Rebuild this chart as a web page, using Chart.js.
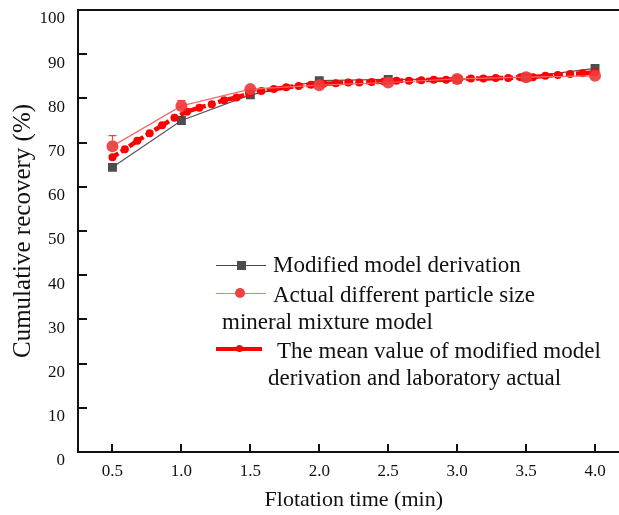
<!DOCTYPE html>
<html><head><meta charset="utf-8">
<script src="https://cdn.jsdelivr.net/npm/chart.js@4.4.1/dist/chart.umd.min.js"></script>
<style>
html,body{margin:0;padding:0;background:#fff;overflow:hidden;width:619px;height:515px;}
#wrap{position:relative;width:640px;height:515px;}
#c{position:absolute;left:0;top:0;}
#legend{position:absolute;left:0;top:0;width:619px;height:515px;font-family:'Liberation Serif','Times New Roman',serif;font-size:23px;color:#111;pointer-events:none;}
.lt{position:absolute;white-space:nowrap;line-height:23px;}
.sym{position:absolute;}
</style></head>
<body><div id="wrap"><canvas id="c" width="640" height="515"></canvas>
<div id="legend">
  <div class="sym" style="left:216px;top:264.5px;width:50px;height:1px;background:#444;"></div>
  <div class="sym" style="left:236.5px;top:260.5px;width:9px;height:9px;background:#4d4d4d;"></div>
  <div class="lt" style="left:273px;top:253px;">Modified model derivation</div>
  <div class="sym" style="left:216px;top:292.5px;width:50px;height:1.5px;background:#f07a7a;"></div>
  <div class="sym" style="left:235px;top:288px;width:10px;height:10px;border-radius:50%;background:#ef4343;"></div>
  <div class="lt" style="left:273px;top:282.5px;">Actual different particle size</div>
  <div class="lt" style="left:222px;top:310px;">mineral mixture model</div>
  <div class="sym" style="left:216px;top:346.5px;width:46px;height:4px;background:#ff0000;"></div>
  <div class="sym" style="left:235.5px;top:345px;width:7px;height:7px;border-radius:50%;background:#ff0000;"></div>
  <div class="lt" style="left:277px;top:339px;">The mean value of modified model</div>
  <div class="lt" style="left:268px;top:366px;">derivation and laboratory actual</div>
</div></div>
<script>
// ---- data ----
const timeMin = [0.5, 1.0, 1.5, 2.0, 2.5, 3.0, 3.5, 4.0];
const modifiedModel = [64.4, 75.0, 80.8, 84.0, 84.3, 84.3, 84.8, 86.8];
const actualMixture = [69.2, 78.3, 82.1, 83.0, 83.6, 84.4, 84.8, 85.1];
const actualErrUp = [2.4, 1.2, 0, 0, 0, 0, 0, 0];
const meanTime = [0.50, 0.59, 0.68, 0.77, 0.86, 0.95, 1.04, 1.13, 1.22, 1.31,
                  1.40, 1.49, 1.58, 1.67, 1.76, 1.85, 1.94, 2.03, 2.12, 2.21,
                  2.29, 2.38, 2.47, 2.56, 2.65, 2.74, 2.83, 2.92, 3.01, 3.10,
                  3.19, 3.28, 3.37, 3.46, 3.55, 3.64, 3.73, 3.82, 3.91, 4.00];
const meanValue = [66.7, 68.5, 70.4, 72.1, 73.9, 75.6, 77.0, 77.9, 78.7, 79.6,
                   80.2, 81.1, 81.7, 82.1, 82.5, 82.8, 83.1, 83.3, 83.4, 83.6,
                   83.6, 83.7, 83.8, 84.0, 84.0, 84.1, 84.2, 84.2, 84.4, 84.5,
                   84.5, 84.6, 84.6, 84.8, 84.8, 85.1, 85.3, 85.5, 85.7, 85.9];
const xTicks = [0.5, 1.0, 1.5, 2.0, 2.5, 3.0, 3.5, 4.0];
const yTicks = [0, 10, 20, 30, 40, 50, 60, 70, 80, 90, 100];
const xTitle = 'Flotation time (min)';
const yTitle = 'Cumulative recovery (%)';

const toXY = (xs, ys) => xs.map((x, i) => ({x: x, y: ys[i]}));

const FONT = "'Liberation Serif', 'Times New Roman', serif";
Chart.defaults.font.family = FONT;
Chart.defaults.color = '#111';

const framePlugin = {
  id: 'frame',
  afterDatasetsDraw(chart) {
    const {ctx, scales: {x, y}} = chart;
    ctx.save();
    ctx.strokeStyle = '#ef4343';
    ctx.lineWidth = 1.2;
    timeMin.forEach((t, i) => {
      if (!actualErrUp[i]) return;
      const px = x.getPixelForValue(t);
      const p0 = y.getPixelForValue(actualMixture[i]) - 6;
      const p1 = y.getPixelForValue(actualMixture[i] + actualErrUp[i]);
      ctx.beginPath();
      ctx.moveTo(px, p0); ctx.lineTo(px, p1);
      ctx.moveTo(px - 4, p1); ctx.lineTo(px + 4, p1);
      ctx.stroke();
    });
    ctx.restore();
  },
  afterDraw(chart) {
    const {ctx, chartArea: a, scales: {x, y}} = chart;
    ctx.save();
    ctx.strokeStyle = '#111';
    ctx.lineWidth = 2;
    ctx.beginPath();
    ctx.moveTo(a.right + 20, a.top); ctx.lineTo(a.left, a.top);
    ctx.lineTo(a.left, a.bottom); ctx.lineTo(a.right + 20, a.bottom);
    y.ticks.forEach(t => {
      const py = Math.round(y.getPixelForValue(t.value));
      ctx.moveTo(a.left, py); ctx.lineTo(a.left + 9, py);
    });
    x.ticks.forEach(t => {
      const px = Math.round(x.getPixelForValue(t.value));
      ctx.moveTo(px, a.bottom); ctx.lineTo(px, a.bottom - 8);
    });
    ctx.stroke();
    ctx.restore();
  }
};

new Chart(document.getElementById('c'), {
  type: 'line',
  data: {
    datasets: [
      {
        label: 'Actual different particle size mineral mixture model',
        data: toXY(timeMin, actualMixture),
        order: 0,
        borderColor: '#f06a6a',
        borderWidth: 1.2,
        backgroundColor: 'rgba(239,60,60,0.92)',
        pointBackgroundColor: 'rgba(239,60,60,0.92)',
        pointBorderWidth: 0,
        pointRadius: 6,
        pointStyle: 'circle',
        tension: 0
      },
      {
        label: 'The mean value of modified model derivation and laboratory actual',
        data: toXY(meanTime, meanValue),
        order: 1,
        borderColor: '#ff0000',
        borderWidth: 4.5,
        borderDash: [7, 3],
        pointBackgroundColor: '#ff0000',
        pointBorderWidth: 0,
        pointRadius: 4,
        tension: 0
      },
      {
        label: 'Modified model derivation',
        data: toXY(timeMin, modifiedModel),
        order: 2,
        borderColor: '#555555',
        borderWidth: 1.2,
        pointBackgroundColor: '#4d4d4d',
        pointBorderWidth: 0,
        pointStyle: 'rect',
        pointRadius: 6.3,
        tension: 0
      }
    ]
  },
  options: {
    responsive: false,
    animation: false,
    layout: {padding: {top: 10, right: 10.5, left: 0, bottom: 0}},
    plugins: {legend: {display: false}, tooltip: {enabled: false}},
    scales: {
      x: {
        type: 'linear',
        min: 0.25, max: 4.25,
        grid: {display: false, drawTicks: false},
        border: {display: false},
        afterBuildTicks: s => { s.ticks = xTicks.map(v => ({value: v})); },
        afterFit: s => { s.height = 63; s.paddingLeft = 0; s.paddingRight = 0; },
        ticks: {
          font: {size: 17, family: FONT}, color: '#111', padding: 9,
          maxRotation: 0,
          callback: v => Number(v).toFixed(1)
        },
        title: {display: true, text: xTitle, font: {size: 22, family: FONT}, color: '#111', padding: {top: 0, bottom: 2}}
      },
      y: {
        type: 'linear',
        min: 0, max: 100,
        grid: {display: false, drawTicks: false},
        border: {display: false},
        afterBuildTicks: s => { s.ticks = yTicks.map(v => ({value: v})); },
        afterFit: s => { s.width = 78; s.paddingTop = 0; s.paddingBottom = 0; },
        ticks: {
          font: {size: 17, family: FONT}, color: '#111', padding: 13,
          labelOffset: 9,
          callback: v => String(v)
        },
        title: {display: true, text: yTitle, font: {size: 25, family: FONT}, color: '#111', padding: {top: 8, bottom: 0}}
      }
    }
  },
  plugins: [framePlugin]
});
</script>
</body></html>
